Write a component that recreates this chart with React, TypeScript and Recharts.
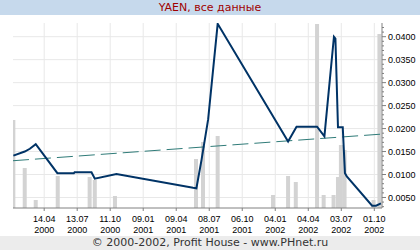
import React from "react";
import {
  ComposedChart,
  Bar,
  Line,
  XAxis,
  YAxis,
  CartesianGrid,
  ReferenceArea,
} from "recharts";

// x values are days counted from 01.01.2000
const xTicks = [104, 194, 284, 374, 464, 554, 644, 734, 824, 914, 1004];
const xTickDay = ["14.04", "13.07", "11.10", "09.01", "09.04", "08.07", "06.10", "04.01", "04.04", "03.07", "01.10"];
const xTickYear = ["2000", "2000", "2000", "2001", "2001", "2001", "2001", "2002", "2002", "2002", "2002"];

const yMajorTicks = [0.005, 0.01, 0.015, 0.02, 0.025, 0.03, 0.035, 0.04];
const yMinorTicks = [
  0.003, 0.004, 0.005, 0.006, 0.007, 0.008, 0.009, 0.01, 0.011, 0.012, 0.013,
  0.014, 0.015, 0.016, 0.017, 0.018, 0.019, 0.02, 0.021, 0.022, 0.023, 0.024,
  0.025, 0.026, 0.027, 0.028, 0.029, 0.03, 0.031, 0.032, 0.033, 0.034, 0.035,
  0.036, 0.037, 0.038, 0.039, 0.04, 0.041, 0.042,
];

const priceDays = [20, 51, 65, 81, 140, 185, 187, 233, 242, 301, 510, 519, 533, 551, 577, 769, 792, 848, 868, 894, 898, 905, 918, 924, 929, 998, 1009, 1022];
const priceValues = [0.0141, 0.015, 0.0156, 0.0166, 0.0103, 0.0103, 0.0105, 0.0105, 0.0091, 0.0101, 0.0071, 0.007, 0.0132, 0.022, 0.0428, 0.0172, 0.0204, 0.0204, 0.0183, 0.04, 0.0396, 0.0203, 0.0203, 0.0103, 0.0096, 0.0032, 0.0032, 0.0037];

const volumeDays = [20, 51, 81, 141, 228, 242, 297, 518, 537, 577, 728, 769, 790, 848, 866, 893, 905, 913, 923, 1002, 1018];
const volumeValues = [88, 40, 8, 32, 31, 28, 12, 49, 66, 72, 13, 32, 26, 184, 13, 13, 31, 63, 58, 8, 174];

const trendDays = [19, 1025];
const trendValues = [0.013, 0.0188];

const volumeData = volumeDays.map((d, i) => ({ d, h: volumeValues[i] }));
const priceData = priceDays.map((d, i) => ({ d, v: priceValues[i] }));
const trendData = trendDays.map((d, i) => ({ d, v: trendValues[i] }));

const tickFont = "'Liberation Sans', Arial, sans-serif";
const mainFont = "'DejaVu Sans', Verdana, sans-serif";

const XTick = (props: any) => {
  const { x, y, payload } = props;
  const i = xTicks.indexOf(payload.value);
  return (
    <text x={x} y={y} textAnchor="middle" fontSize={9} fontFamily={tickFont} fill="#000">
      <tspan x={x} dy={11.3}>{xTickDay[i]}</tspan>
      <tspan x={x} dy={11}>{xTickYear[i]}</tspan>
    </text>
  );
};

const YTick = (props: any) => {
  const { x, y, payload } = props;
  const v: number = payload.value;
  const k = Math.round(v * 1000);
  const major = k % 5 === 0;
  return (
    <g>
      <line x1={x} x2={x + (major ? 4 : 2)} y1={y} y2={y} stroke="#808080" />
      {major && (
        <text x={x + 6} y={y} dy={3.3} fontSize={9} fontFamily={tickFont} fill="#000" textAnchor="start">
          {v.toFixed(4)}
        </text>
      )}
    </g>
  );
};

const VolumeBar = (props: any) => {
  const { x, y, width, height } = props;
  if (height == null || !isFinite(height) || height <= 0) return null;
  const cx = x + width / 2;
  return <rect x={cx - 2} y={y} width={4} height={height} fill="#d3d3d3" />;
};

export default function App() {
  return (
    <div style={{ position: "absolute", left: 0, top: 0, width: 420, height: 250, background: "#fff" }}>
      <div
        style={{
          position: "absolute", left: 0, top: 0, width: 420, height: 15, background: "#c6d9ec",
          color: "#a00000", fontFamily: mainFont, fontSize: 11, lineHeight: "15px", textAlign: "center",
        }}
      >
        YAEN, все данные
      </div>
      <div
        style={{
          position: "absolute", left: 0, top: 236, width: 420, height: 14, background: "#ececec",
          color: "#333", fontFamily: mainFont, fontSize: 11, lineHeight: "14px", textAlign: "center",
        }}
      >
        © 2000-2002, Profit House - www.PHnet.ru
      </div>
      <div style={{ position: "absolute", left: 0, top: 0 }}>
        <ComposedChart width={420} height={250} data={volumeData} margin={{ top: 23, right: 0, bottom: 12, left: 13 }}>
          <CartesianGrid
            yAxisId="price"
            stroke="#e8e8e8"
            horizontalValues={yMajorTicks}
            verticalValues={xTicks}
          />
          <XAxis
            dataKey="d"
            type="number"
            domain={[19, 1025]}
            allowDataOverflow
            ticks={xTicks}
            interval={0}
            height={30}
            tickSize={3}
            tickMargin={0}
            tick={<XTick />}
            stroke="#808080"
          />
          <YAxis yAxisId="vol" hide domain={[0, 185]} allowDataOverflow />
          <YAxis
            yAxisId="price"
            orientation="right"
            type="number"
            domain={[0.00271, 0.04298]}
            allowDataOverflow
            ticks={yMinorTicks}
            interval={0}
            width={38}
            tickSize={0}
            tickMargin={0}
            tickLine={false}
            tick={<YTick />}
            stroke="#808080"
          />
          <Bar yAxisId="vol" dataKey="h" fill="#d3d3d3" barSize={4} shape={<VolumeBar />} isAnimationActive={false} />
          <Line
            yAxisId="price"
            data={trendData}
            dataKey="v"
            type="linear"
            stroke="#2f7b78"
            strokeWidth={1}
            strokeDasharray="16 6"
            dot={false}
            activeDot={false}
            isAnimationActive={false}
          />
          <Line
            yAxisId="price"
            data={priceData}
            dataKey="v"
            type="linear"
            stroke="#003366"
            strokeWidth={2}
            dot={false}
            activeDot={false}
            isAnimationActive={false}
          />
          <ReferenceArea yAxisId="price" fill="none" fillOpacity={0} stroke="#808080" strokeWidth={1} />
        </ComposedChart>
      </div>
    </div>
  );
}
